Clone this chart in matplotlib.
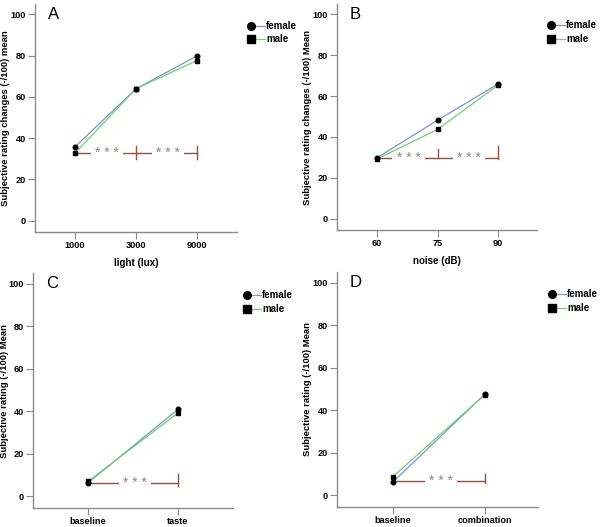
import matplotlib
matplotlib.use("Agg")
import matplotlib.pyplot as plt
from matplotlib.lines import Line2D

plt.rcParams["font.family"] = ["Liberation Sans", "DejaVu Sans"]

# ---- data ----
a_cats = ["1000", "3000", "9000"]
a_female = [35.8, 63.9, 79.8]
a_male = [32.8, 63.9, 77.6]
a_bracket = 33.0

b_cats = ["60", "75", "90"]
b_female = [29.8, 48.2, 66.0]
b_male = [29.2, 43.7, 65.4]
b_bracket = 29.8

c_cats = ["baseline", "taste"]
c_female = [6.3, 40.9]
c_male = [7.0, 39.2]
c_bracket = 6.4

d_cats = ["baseline", "combination"]
d_female = [6.3, 47.5]
d_male = [8.8, 47.3]
d_bracket = 6.9

FEMALE_C = "#8090d8"
MALE_C = "#6ad46a"
BR_C = "#95503f"
SPINE_C = "#8a8a8a"

fig = plt.figure(figsize=(6.0, 5.27), dpi=100)

panels = [
    dict(rect=[35/600, (527-232)/527, 202/600, 228/527], cats=a_cats, f=a_female, m=a_male,
         br=a_bracket, ticks=[(1, -3.2, 3.2), (2, -3.2, 3.2)], stars=[(0, 1), (1, 2)],
         xlim=(-0.66, 2.66), ylab="Subjective rating changes (-/100) mean", xlab="light (lux)",
         letter="A", ylx=-0.122),
    dict(rect=[337/600, (527-230)/527, 200/600, 226/527], cats=b_cats, f=b_female, m=b_male,
         br=b_bracket, ticks=[(1, 0, 4.2), (2, -0.4, 5.6)], stars=[(0, 1), (1, 2)],
         xlim=(-0.66, 2.64), ylab="Subjective rating changes (-/100) Mean", xlab="noise (dB)",
         letter="B", ylx=-0.125),
    dict(rect=[33/600, (527-508)/527, 200/600, 235/527], cats=c_cats, f=c_female, m=c_male,
         br=c_bracket, ticks=[(1, -1.6, 4.0)], stars=[(0, 1)],
         xlim=(-0.61, 1.61), ylab="Subjective rating (-/100) Mean", xlab=None,
         letter="C", ylx=-0.12),
    dict(rect=[337/600, (527-507)/527, 201/600, 235/527], cats=d_cats, f=d_female, m=d_male,
         br=d_bracket, ticks=[(1, -1.3, 3.3)], stars=[(0, 1)],
         xlim=(-0.61, 1.58), ylab="Subjective rating (-/100) Mean", xlab=None,
         letter="D", ylx=-0.125),
]

for p in panels:
    ax = fig.add_axes(p["rect"])
    x = list(range(len(p["cats"])))
    # bracket
    ax.plot([x[0], x[-1]], [p["br"], p["br"]], color=BR_C, lw=1.0, zorder=1)
    for (xi, lo, hi) in p["ticks"]:
        ax.plot([xi, xi], [p["br"] + lo, p["br"] + hi], color=BR_C, lw=1.0, zorder=1)
    for (i0, i1) in p["stars"]:
        ax.text((x[i0] + x[i1]) / 2 + 0.02, p["br"], "* * *", color="#888888", fontsize=10,
                ha="center", va="center", zorder=2,
                bbox=dict(boxstyle="square,pad=0.3", fc="white", ec="none"))
    # lines
    ax.plot(x, p["f"], color=FEMALE_C, lw=0.9, zorder=3)
    ax.plot(x, p["m"], color=MALE_C, lw=0.9, zorder=3)
    ax.plot(x, p["f"], "o", color="black", ms=3.3, zorder=4)
    ax.plot(x, p["m"], "s", color="black", ms=3.3, zorder=4)

    ax.set_xlim(*p["xlim"])
    ax.set_ylim(-5.5, 105)
    ax.set_xticks(x)
    ax.set_xticklabels(p["cats"])
    ax.set_yticks([0, 20, 40, 60, 80, 100])
    for s in ["top", "right"]:
        ax.spines[s].set_visible(False)
    for s in ["left", "bottom"]:
        ax.spines[s].set_color(SPINE_C)
        ax.spines[s].set_linewidth(1.0)
    ax.tick_params(axis="both", direction="out", length=5, width=0.8, color=SPINE_C,
                   labelsize=6.6, pad=1.5)
    for lab in ax.get_xticklabels() + ax.get_yticklabels():
        lab.set_fontweight("bold")
    ax.set_ylabel(p["ylab"], fontsize=6.8, fontweight="bold")
    ax.yaxis.set_label_coords(p["ylx"], 0.5)
    if p["xlab"]:
        ax.set_xlabel(p["xlab"], fontsize=7, fontweight="bold", labelpad=6)
    ax.text(0.065, 0.955, p["letter"], transform=ax.transAxes, fontsize=12,
            ha="left", va="center")

    # legend drawn manually beside the axes
    for j, (lab, mk, col) in enumerate([("female", "o", FEMALE_C), ("male", "s", MALE_C)]):
        yy = 0.905 - j * 0.058
        ax.add_line(Line2D([1.09, 1.14], [yy, yy], transform=ax.transAxes, color=col,
                           lw=0.9, clip_on=False))
        ax.add_line(Line2D([1.07], [yy], transform=ax.transAxes, marker=mk, color="black",
                           ms=5.5, clip_on=False, linestyle="none"))
        ax.text(1.145, yy, lab, transform=ax.transAxes, fontsize=7, fontweight="bold",
                ha="left", va="center")

fig.savefig("out.png", dpi=100)
